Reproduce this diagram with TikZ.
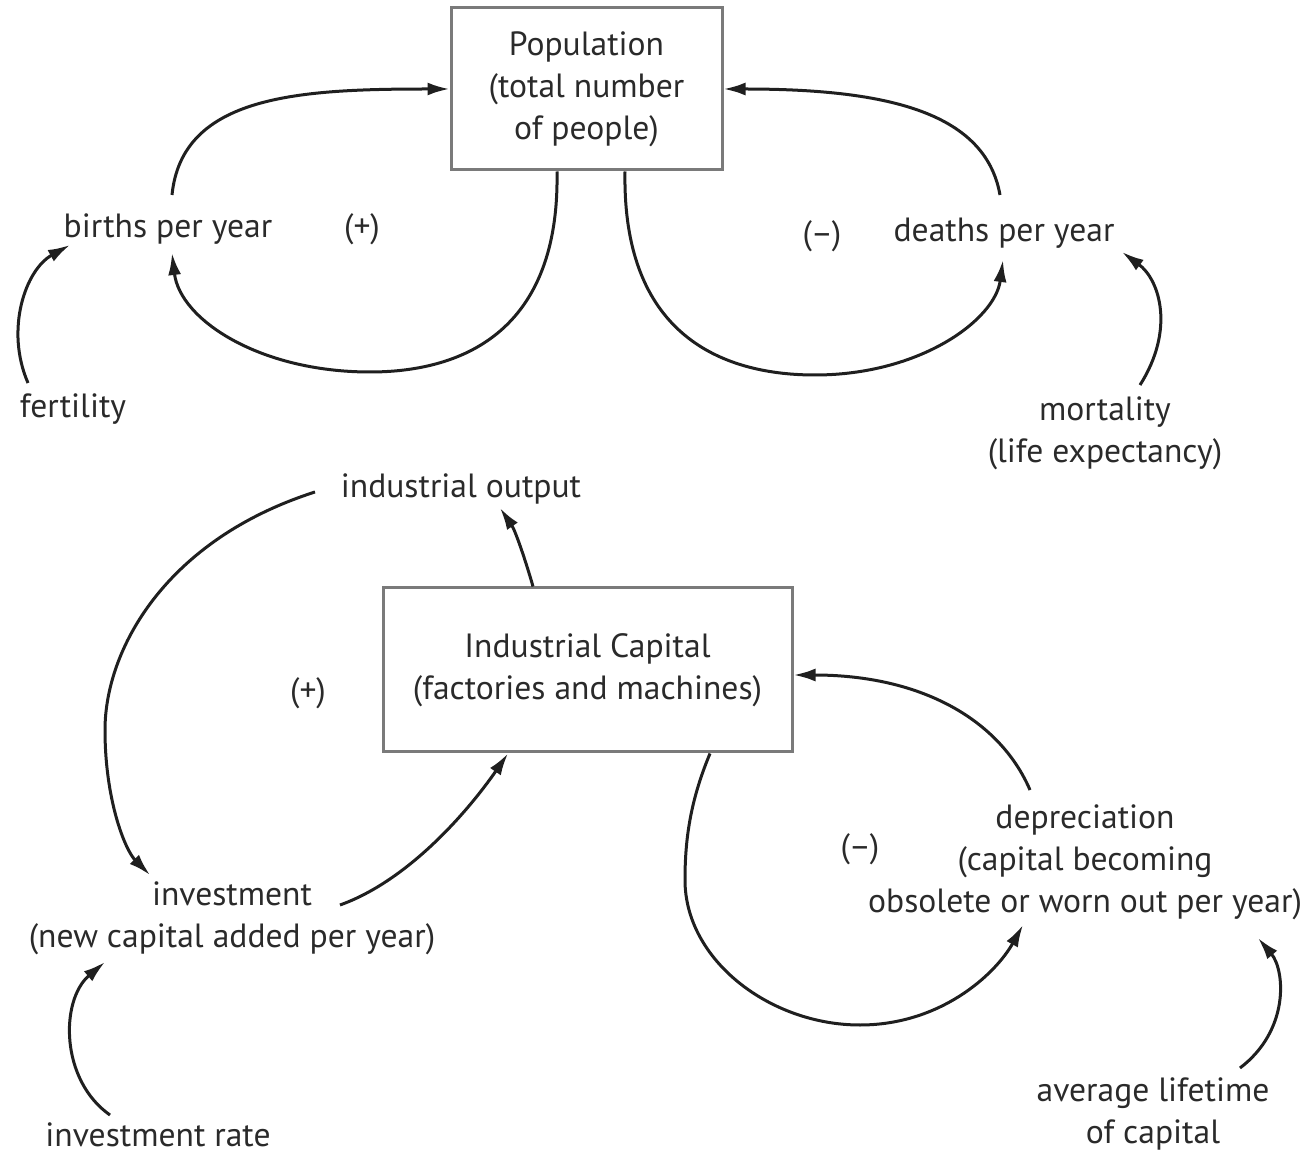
\documentclass[tikz,border=0pt]{standalone}
\usepackage{fontspec}
\setmainfont{PT Sans}
\usetikzlibrary{arrows.meta}
\definecolor{txt}{HTML}{2A2A2A}
\definecolor{boxline}{HTML}{7A7A7A}
\tikzset{
  lbl/.style={inner sep=0pt, align=center, text=txt, font=\fontsize{16.8}{21}\selectfont},
  stock/.style={draw=boxline, line width=1.5pt, inner sep=0pt, align=center, text=txt, font=\fontsize{16.8}{21}\selectfont},
  flow/.style={line width=1.5pt, draw=black!88, -{Latex[length=11pt,width=6.5pt]}}
}
\begin{document}
\begin{tikzpicture}[x=0.5pt,y=-0.5pt]
\useasboundingbox (0,0) rectangle (1307,1154);
% stocks
\node[stock, minimum width=135.5pt, minimum height=81pt] (pop) at (586.5,89) {Population\\(total number\\of people)};
\node[stock, minimum width=204.5pt, minimum height=82pt] (cap) at (587.5,670) {Industrial Capital\\(factories and machines)};
% variables
\node[lbl] (births) at (168,229) {births per year};
\node[lbl] (deaths) at (1004,233) {deaths per year};
\node[lbl] (fert) at (73,409) {fertility};
\node[lbl] (mort) at (1105,433) {mortality\\(life expectancy)};
\node[lbl] (out) at (461,489) {industrial output};
\node[lbl] (inv) at (232,918) {investment\\(new capital added per year)};
\node[lbl] (rate) at (158,1135) {investment rate};
\node[lbl] (dep) at (1085,862) {depreciation\\(capital becoming\\obsolete or worn out per year)};
\node[lbl] (life) at (1153,1114) {average lifetime\\of capital};
% loop signs
\node[lbl] (s1) at (362,229) {(+)};
\node[lbl] (s2) at (822,236) {(–)};
\node[lbl] (s3) at (308,693) {(+)};
\node[lbl] (s4) at (860,849) {(–)};
% population loops
\draw[flow] ([shift={(4,-34)}]births.center) .. controls +(10,-100) and +(-150,0) .. (pop.west);
\draw[flow] ([shift={(-29.5,0)}]pop.south) .. controls +(3,170) and +(80,0) .. (370,372) .. controls +(-110,0) and +(8,67) .. ([shift={(4,24)}]births.center);
\draw[flow] ([shift={(38.5,0)}]pop.south) .. controls +(-3,170) and +(-85,0) .. (815,375) .. controls +(105,0) and +(-8,60) .. ([shift={(-1,27)}]deaths.center);
\draw[flow] ([shift={(-4,-38)}]deaths.center) .. controls +(-15,-85) and +(158,0) .. (pop.east);
\draw[flow] ([shift={(-45,-26)}]fert.center) .. controls +(-23,-53) and +(-45,25) .. ([shift={(-98,16)}]births.center);
\draw[flow] ([shift={(35,-48)}]mort.center) .. controls +(35,-55) and +(38,28) .. ([shift={(118,19)}]deaths.center);
% capital loops
\draw[flow] ([shift={(-54.5,0)}]cap.north) .. controls +(-8,-28) and +(15,22) .. ([shift={(39,19)}]out.center);
\draw[flow] ([shift={(-146,3)}]out.center) .. controls +(-150,48) and +(0,-80) .. (105,730) .. controls +(0,70) and +(-25,-25) .. ([shift={(-82,-43)}]inv.center);
\draw[flow] ([shift={(108,-13)}]inv.center) .. controls +(70,-25) and +(-38,55) .. ([shift={(-79.5,0)}]cap.south);
\draw[flow] ([shift={(-48,-20)}]rate.center) .. controls +(-50,-35) and +(-45,38) .. ([shift={(-127,44)}]inv.center);
\draw[flow] ([shift={(122.5,0)}]cap.south) .. controls +(-20,48) and +(0,-40) .. (685,880) .. controls +(0,80) and +(-90,0) .. (860,1025) .. controls +(80,0) and +(-28,50) .. ([shift={(-62,63)}]dep.center);
\draw[flow] ([shift={(-55,-72)}]dep.center) .. controls +(-30,-70) and +(128,0) .. ([shift={(0,5)}]cap.east);
\draw[flow] ([shift={(87,-46)}]life.center) .. controls +(50,-38) and +(27,32) .. ([shift={(173,76)}]dep.center);
\end{tikzpicture}
\end{document}
